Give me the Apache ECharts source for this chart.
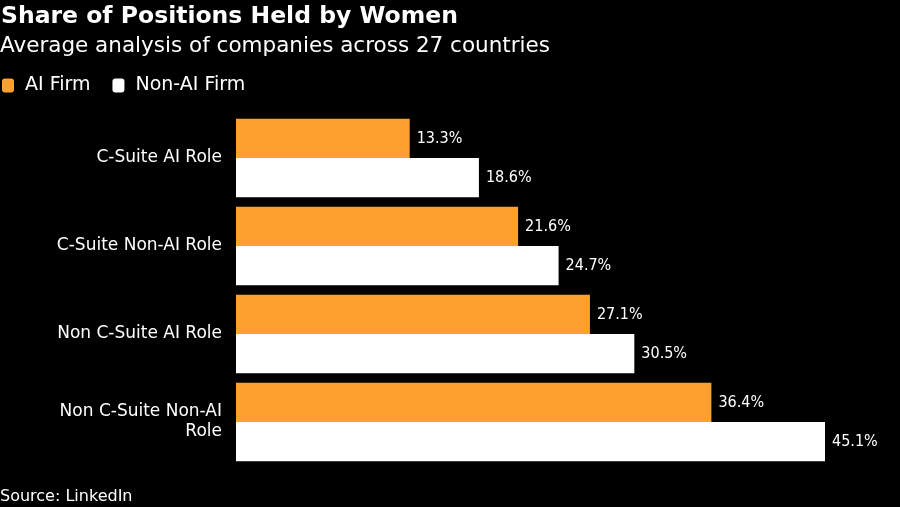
<!DOCTYPE html>
<html><head><meta charset="utf-8">
<script src="https://cdn.jsdelivr.net/npm/echarts@6/dist/echarts.min.js"></script>
<style>html,body{margin:0;padding:0;background:#000;}#c{width:900px;height:507px;}</style>
</head><body><div id="c"></div>
<script>
const categories = ["C-Suite AI Role", "C-Suite Non-AI Role", "Non C-Suite AI Role", "Non C-Suite Non-AI Role"];
const aiFirm = [13.3, 21.6, 27.1, 36.4];
const nonAiFirm = [18.6, 24.7, 30.5, 45.1];
const seriesNames = ["AI Firm", "Non-AI Firm"];

const FONT = "DejaVu Sans";
const FONTC = "DejaVu Sans Condensed";
const chart = echarts.init(document.getElementById('c'));
const valLabel = {show: true, position: 'right', distance: 7, color: '#fff', fontFamily: FONTC, fontSize: 16,
  formatter: p => p.value.toFixed(1) + '%'};
chart.setOption({
  backgroundColor: '#000',
  animation: false,
  title: [
    {text: 'Share of Positions Held by Women', left: 1, top: 5, padding: 0,
     textStyle: {color: '#fff', fontFamily: FONT, fontWeight: 'bold', fontSize: 23.5}},
    {text: 'Average analysis of companies across 27 countries', left: 0, top: 35, padding: 0,
     textStyle: {color: '#fff', fontFamily: FONT, fontWeight: 'normal', fontSize: 21.5}},
    {text: 'Source: LinkedIn', left: 0, top: 489, padding: 0,
     textStyle: {color: '#fff', fontFamily: FONT, fontWeight: 'normal', fontSize: 16}}
  ],
  legend: {
    left: 2, top: 76, padding: 0, icon: 'roundRect', itemWidth: 12, itemHeight: 14, itemGap: 22,
    textStyle: {color: '#fff', fontFamily: FONT, fontSize: 19, padding: [0, 0, 0, 6]},
    data: seriesNames
  },
  grid: {left: 236, right: 11, top: 114, bottom: 41, containLabel: false},
  xAxis: {type: 'value', min: 0, max: 50, show: false},
  yAxis: {
    type: 'category', data: categories, inverse: true,
    axisLine: {show: false}, axisTick: {show: false},
    axisLabel: {color: '#fff', fontFamily: FONT, fontSize: 17, margin: 14,
      width: 168, overflow: 'break', lineHeight: 20, align: 'right'}
  },
  series: [
    {name: seriesNames[0], type: 'bar', data: aiFirm, barGap: '0%', barCategoryGap: '11%',
     itemStyle: {color: '#FCA130'}, label: valLabel},
    {name: seriesNames[1], type: 'bar', data: nonAiFirm, barGap: '0%', barCategoryGap: '11%',
     itemStyle: {color: '#fff'}, label: valLabel}
  ]
});
</script></body></html>
